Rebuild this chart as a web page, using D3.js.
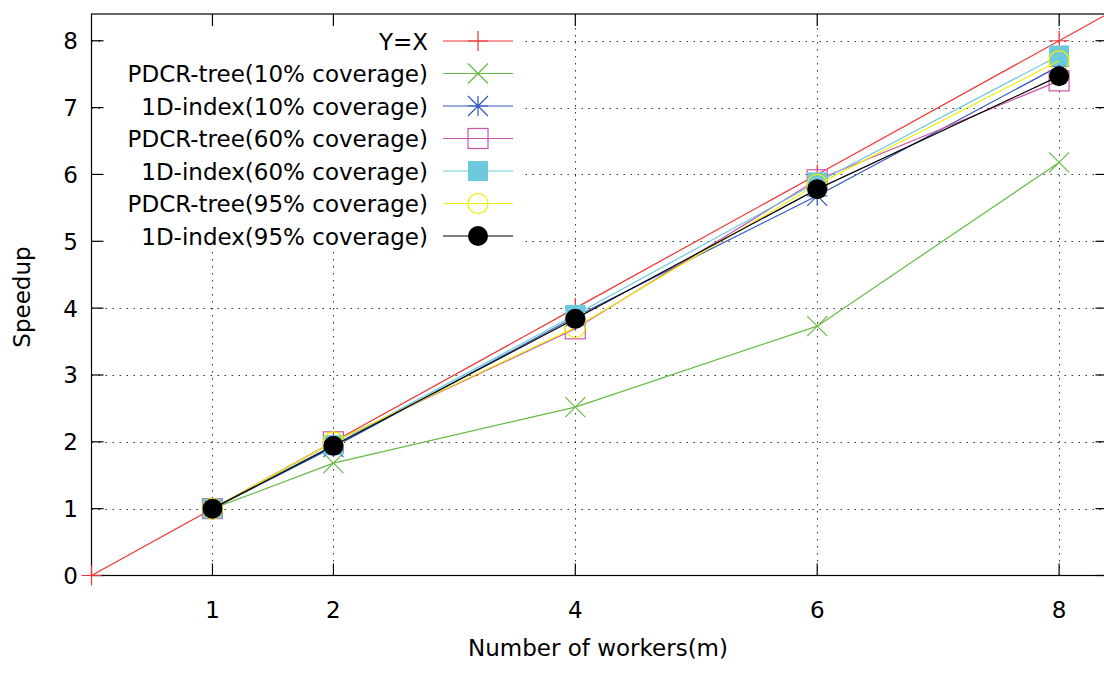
<!DOCTYPE html>
<html>
<head>
<meta charset="utf-8">
<script src="https://cdn.jsdelivr.net/npm/d3@7"></script>
<style>
  body { margin: 0; background: #fff; }
  text { font-family: "DejaVu Sans", sans-serif; fill: #000; }
</style>
</head>
<body>
<div id="chart"></div>
<script>
// data
var workers = [1, 2, 4, 6, 8];
var idealX = [0, 1, 2, 4, 6, 8, 9];
var idealY = [0, 1, 2, 4, 6, 8, 9];
var pdcr10 = [1.0, 1.68, 2.52, 3.73, 6.18];
var idx10 = [1.0, 1.92, 3.87, 5.68, 7.62];
var pdcr60 = [1.0, 2.0, 3.69, 5.92, 7.40];
var idx60 = [1.0, 1.95, 3.90, 5.88, 7.78];
var pdcr95 = [1.0, 2.0, 3.71, 5.85, 7.70];
var idx95 = [1.0, 1.94, 3.84, 5.78, 7.47];

var seriesNames = ["Y=X", "PDCR-tree(10% coverage)", "1D-index(10% coverage)",
  "PDCR-tree(60% coverage)", "1D-index(60% coverage)",
  "PDCR-tree(95% coverage)", "1D-index(95% coverage)"];
var xTicks = [1, 2, 4, 6, 8];
var yTicks = [0, 1, 2, 3, 4, 5, 6, 7, 8];

var svgWidth = 1104;
var svgHeight = 675;
var fontSize = 23;

var x = d3.scaleLinear().domain([0, 8.4]).range([91.5, 1107.5]);
var y = d3.scaleLinear().domain([0, 8.4]).range([575.5, 14]);

var series = [
  { name: seriesNames[0], xs: idealX, ys: idealY, color: "#ee3333", marker: "plus" },
  { name: seriesNames[1], xs: workers, ys: pdcr10, color: "#66bb44", marker: "cross" },
  { name: seriesNames[2], xs: workers, ys: idx10, color: "#3355bb", marker: "star" },
  { name: seriesNames[3], xs: workers, ys: pdcr60, color: "#cc55aa", marker: "square" },
  { name: seriesNames[4], xs: workers, ys: idx60, color: "#6ccadc", marker: "fsquare" },
  { name: seriesNames[5], xs: workers, ys: pdcr95, color: "#eeee00", marker: "circle" },
  { name: seriesNames[6], xs: workers, ys: idx95, color: "#000000", marker: "fcircle" }
];

var svg = d3.select("#chart").append("svg")
  .attr("width", svgWidth)
  .attr("height", svgHeight);

svg.append("defs").append("clipPath").attr("id", "plotclip")
  .append("rect")
  .attr("x", x(0)).attr("y", y(8.4))
  .attr("width", x(8.4) - x(0)).attr("height", y(0) - y(8.4));

// grid
var grid = svg.append("g").attr("stroke", "#333").attr("stroke-width", 1)
  .attr("stroke-dasharray", "1.5,5.5");
grid.selectAll("line.gx").data(xTicks).enter().append("line")
  .attr("x1", d => Math.round(x(d)) + 0.5).attr("x2", d => Math.round(x(d)) + 0.5)
  .attr("y1", y(0)).attr("y2", y(8.4));
grid.selectAll("line.gy").data(yTicks.slice(1)).enter().append("line")
  .attr("y1", d => Math.round(y(d)) + 0.5).attr("y2", d => Math.round(y(d)) + 0.5)
  .attr("x1", x(0)).attr("x2", x(8.4));

// key box hides grid behind it
svg.append("rect")
  .attr("x", 100).attr("y", 15)
  .attr("width", 422).attr("height", 236)
  .attr("fill", "#fff");

// border and ticks
var axes = svg.append("g").attr("stroke", "#000").attr("stroke-width", 1.2);
axes.append("rect")
  .attr("x", x(0)).attr("y", y(8.4))
  .attr("width", x(8.4) - x(0)).attr("height", y(0) - y(8.4))
  .attr("fill", "none");
axes.selectAll("line.tb").data(xTicks).enter().append("line")
  .attr("x1", d => x(d)).attr("x2", d => x(d))
  .attr("y1", y(0)).attr("y2", y(0) - 12);
axes.selectAll("line.tt").data(xTicks).enter().append("line")
  .attr("x1", d => x(d)).attr("x2", d => x(d))
  .attr("y1", y(8.4)).attr("y2", y(8.4) + 12);
axes.selectAll("line.tl").data(yTicks).enter().append("line")
  .attr("y1", d => y(d)).attr("y2", d => y(d))
  .attr("x1", x(0)).attr("x2", x(0) + 12);
axes.selectAll("line.tr").data(yTicks).enter().append("line")
  .attr("y1", d => y(d)).attr("y2", d => y(d))
  .attr("x1", x(8.4)).attr("x2", x(8.4) - 12);

// tick labels
svg.selectAll("text.xt").data(xTicks).enter().append("text")
  .attr("x", d => x(d)).attr("y", 618)
  .attr("text-anchor", "middle").attr("font-size", fontSize)
  .text(d => d);
svg.selectAll("text.yt").data(yTicks).enter().append("text")
  .attr("x", 78).attr("y", d => y(d) + 8.5)
  .attr("text-anchor", "end").attr("font-size", fontSize)
  .text(d => d);

// axis titles
svg.append("text")
  .attr("x", 598).attr("y", 656)
  .attr("text-anchor", "middle").attr("font-size", fontSize)
  .text("Number of workers(m)");
svg.append("text")
  .attr("transform", "translate(30, 297) rotate(-90)")
  .attr("text-anchor", "middle").attr("font-size", fontSize)
  .text("Speedup");

function drawMarker(g, type, color) {
  var s = 10;
  if (type === "plus") {
    g.append("path").attr("d", `M${-s},0H${s}M0,${-s}V${s}`).attr("stroke", color).attr("fill", "none");
  } else if (type === "cross") {
    g.append("path").attr("d", `M${-s},${-s}L${s},${s}M${-s},${s}L${s},${-s}`).attr("stroke", color).attr("fill", "none");
  } else if (type === "star") {
    g.append("path").attr("d", `M${-s},0H${s}M0,${-s}V${s}M${-s},${-s}L${s},${s}M${-s},${s}L${s},${-s}`).attr("stroke", color).attr("fill", "none");
  } else if (type === "square") {
    g.append("rect").attr("x", -s).attr("y", -s).attr("width", 2 * s).attr("height", 2 * s)
      .attr("stroke", color).attr("fill", "none");
  } else if (type === "fsquare") {
    g.append("rect").attr("x", -s).attr("y", -s).attr("width", 2 * s).attr("height", 2 * s)
      .attr("fill", color);
  } else if (type === "circle") {
    g.append("circle").attr("r", s).attr("stroke", color).attr("fill", "none");
  } else if (type === "fcircle") {
    g.append("circle").attr("r", s).attr("fill", color);
  }
}

var line = d3.line().x(d => x(d[0])).y(d => y(d[1]));

series.forEach(function(s) {
  var pts = s.xs.map((v, i) => [v, s.ys[i]]);
  var g = svg.append("g");
  g.append("path")
    .attr("d", line(pts))
    .attr("fill", "none")
    .attr("stroke", s.color)
    .attr("stroke-width", 1.2)
    .attr("clip-path", "url(#plotclip)");
  pts.filter(p => p[0] <= 8.4 && p[1] <= 8.4).forEach(function(p) {
    var m = g.append("g")
      .attr("transform", `translate(${x(p[0])},${y(p[1])})`)
      .attr("stroke-width", 1.2);
    drawMarker(m, s.marker, s.color);
  });
});

// key
var key = svg.append("g");
series.forEach(function(s, i) {
  var ky = 41 + i * 32.5;
  key.append("text")
    .attr("x", 428).attr("y", ky + 8.5)
    .attr("text-anchor", "end").attr("font-size", fontSize)
    .text(s.name);
  key.append("line")
    .attr("x1", 443).attr("x2", 513)
    .attr("y1", ky).attr("y2", ky)
    .attr("stroke", s.color).attr("stroke-width", 1.2);
  var m = key.append("g").attr("transform", `translate(478,${ky})`).attr("stroke-width", 1.2);
  drawMarker(m, s.marker, s.color);
});
</script>
</body>
</html>
